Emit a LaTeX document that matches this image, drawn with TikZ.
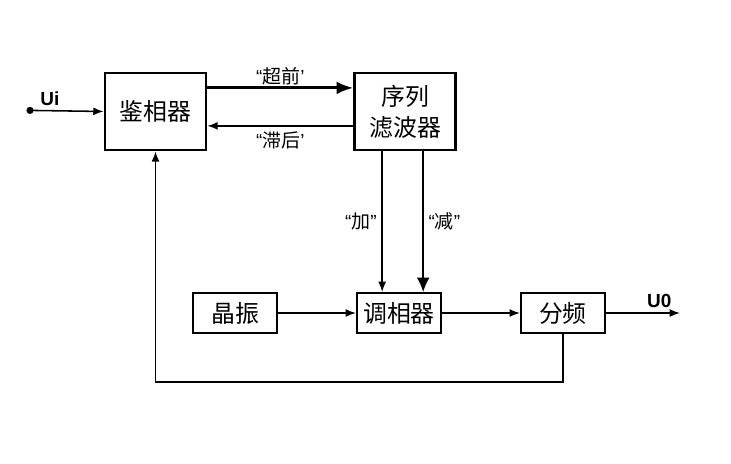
\documentclass[tikz,border=0pt]{standalone}
\usepackage{fontspec}
\setmainfont{Liberation Sans}
\newfontfamily\cjk{Noto Sans CJK SC}
\usetikzlibrary{arrows.meta, positioning}

\begin{document}
\begin{tikzpicture}[font=\cjk,
          bigbox/.style={rectangle, draw, line width=1.9pt, minimum width=2.525cm, minimum height=1.925cm, align=center, font=\cjk\fontsize{17}{21}\selectfont},
          smallbox/.style={rectangle, draw, line width=1.4pt, minimum width=2.1cm, minimum height=1cm, font=\cjk\fontsize{17}{21}\selectfont},
          lbl/.style={font=\fontsize{13.5}{16}\selectfont},
          arrow/.style={-{Latex[length=2.6mm,width=2mm]}, line width=1.1pt},
          bigarrow/.style={-{Latex[length=4.2mm,width=3.2mm]}, line width=2pt}]
        \useasboundingbox (0,0) rectangle (18.275,-11.575);

        \node [bigbox] (jxq) at (3.8875,-2.7875) {鉴相器};
        \node [bigbox, right=3.65cm of jxq] (xllb) {序列\\[1pt]滤波器};
        \node [smallbox] (jz) at (5.875,-7.825) {晶振};
        \node [smallbox, right=1.95cm of jz] (txq) {调相器};
        \node [smallbox, right=1.95cm of txq] (fp) {分频};

        \coordinate (ui) at (0.75,-2.76);
        \coordinate (out) at (17,-7.825);
        \fill (ui) circle (0.09);

        \draw [arrow] (ui) -- node [lbl, above, pos=0.27] {\textbf{Ui}} (jxq.west);
        \draw [bigarrow] ([yshift=0.59cm]jxq.east) -- node [lbl, above, yshift=-2pt] {“{\cjk 超前}’} ([yshift=0.59cm]xllb.west);
        \draw [arrow] ([yshift=-0.36cm]xllb.west) -- node [lbl, below] {“{\cjk 滞后}’} ([yshift=-0.36cm]jxq.east);
        \draw [arrow] ([xshift=-0.575cm]xllb.south) -- node [lbl, left] {“{\cjk 加}”} ([xshift=-0.575cm]xllb.south |- txq.north);
        \draw [-{Latex[length=3.6mm,width=3.2mm]}, line width=1.1pt] ([xshift=0.45cm]xllb.south) -- node [lbl, right] {“{\cjk 减}”} ([xshift=0.45cm]xllb.south |- txq.north);
        \draw [arrow] (jz) -- (txq);
        \draw [arrow] (txq) -- (fp);
        \draw [arrow] (fp) -- node [lbl, above, pos=0.72] {\textbf{U0}} (out);
        \draw [arrow] (fp.south) -- ++(0,-1.2) -| (jxq.south);
      \end{tikzpicture}
\end{document}
